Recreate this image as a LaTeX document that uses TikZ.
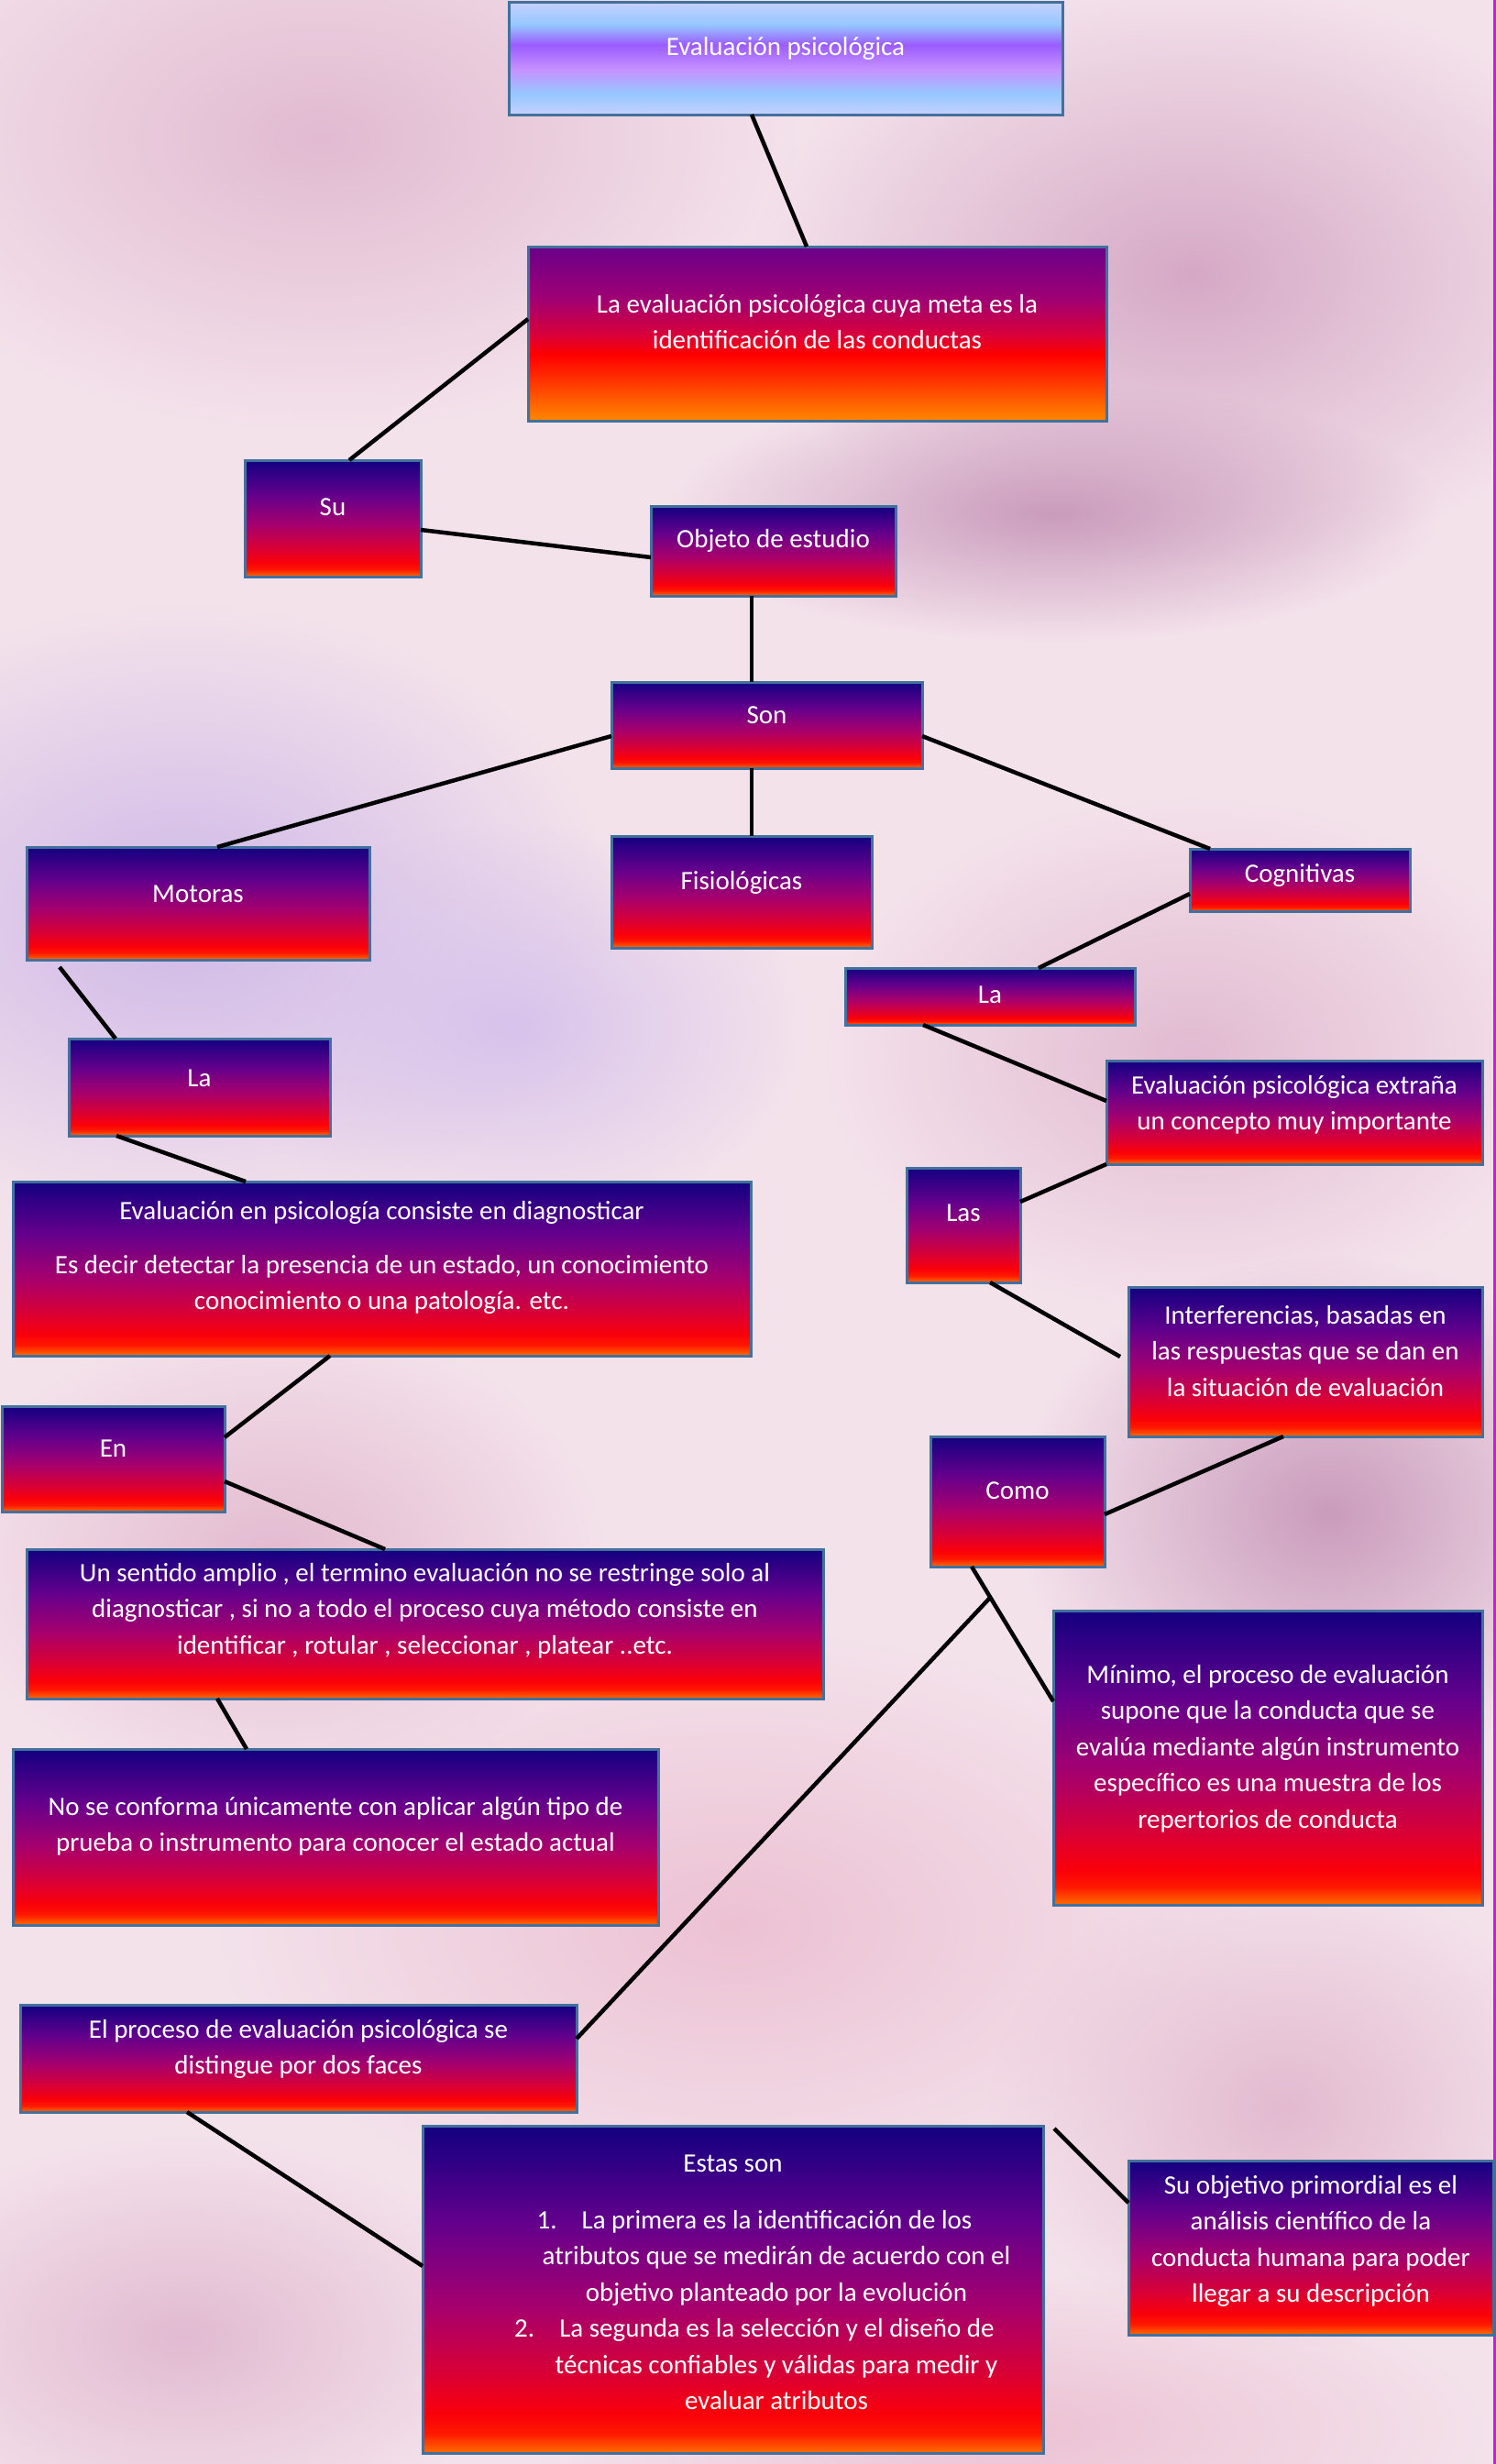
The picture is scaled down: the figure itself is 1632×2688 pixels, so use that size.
\documentclass[tikz,border=0pt]{standalone}
\usepackage{fontspec}
\setmainfont{Carlito}
\usetikzlibrary{fadings}

\definecolor{bgbase}{RGB}{244,226,235}
\definecolor{edgeblue}{RGB}{65,113,156}
\definecolor{rimpink}{RGB}{196,32,216}
\definecolor{cfNavy}{RGB}{18,0,128}
\definecolor{cfPurple}{RGB}{100,0,140}
\definecolor{cfMagenta}{RGB}{165,0,110}
\definecolor{cfCrimson}{RGB}{215,0,55}
\definecolor{cfRed}{RGB}{250,0,10}
\definecolor{cfRedB}{RGB}{255,25,0}
\definecolor{cfOrange}{RGB}{255,110,0}
\definecolor{gfPurple}{RGB}{105,0,138}
\definecolor{gfMagenta}{RGB}{160,0,115}
\definecolor{gfCrimson}{RGB}{215,0,60}
\definecolor{gfRed}{RGB}{255,0,0}
\definecolor{gfRedB}{RGB}{255,45,0}
\definecolor{gfOrange}{RGB}{255,135,0}
\definecolor{tfPale}{RGB}{198,208,255}
\definecolor{tfSky}{RGB}{150,200,255}
\definecolor{tfViolet}{RGB}{155,92,255}
\definecolor{tfLilac}{RGB}{198,145,255}
\definecolor{mauveA}{RGB}{225,185,208}
\definecolor{mauveB}{RGB}{212,166,196}
\definecolor{mauveC}{RGB}{200,152,186}
\definecolor{lavA}{RGB}{204,182,232}
\definecolor{lavB}{RGB}{214,194,236}
\definecolor{rosA}{RGB}{236,192,210}
\definecolor{rosB}{RGB}{226,184,206}

\pgfdeclareverticalshading{conceptfill}{100bp}{color(0bp)=(cfOrange); color(25bp)=(cfOrange); color(28bp)=(cfRedB); color(31bp)=(cfRed); color(37.5bp)=(cfCrimson); color(47.5bp)=(cfMagenta); color(60bp)=(cfPurple); color(75bp)=(cfNavy); color(100bp)=(cfNavy)}
\pgfdeclareverticalshading{goalfill}{100bp}{color(0bp)=(gfOrange); color(25bp)=(gfOrange); color(37.5bp)=(gfRedB); color(44bp)=(gfRed); color(50bp)=(gfCrimson); color(60bp)=(gfMagenta); color(75bp)=(gfPurple); color(100bp)=(gfPurple)}
\pgfdeclareverticalshading{titlefill}{100bp}{color(0bp)=(tfPale); color(25bp)=(tfPale); color(34bp)=(tfSky); color(45bp)=(tfLilac); color(56bp)=(tfViolet); color(65bp)=(tfSky); color(75bp)=(tfPale); color(100bp)=(tfPale)}
\tikzfading[name=blobfade, inner color=transparent!5, outer color=transparent!100]

\newcommand{\cbtext}[4]{\parbox[c][#2][t]{#1}{\centering\vspace*{\dimexpr#3-27.65pt\relax}\strut#4}}

\begin{document}
\begin{tikzpicture}[
    x=1pt, y=-1pt,
    concept/.style={draw=edgeblue, line width=3pt, shade, shading=conceptfill, inner sep=0pt, outer sep=0pt, anchor=north west, text=white, font=\fontsize{29}{39.5}\selectfont},
    goal/.style={concept, shading=goalfill},
    headline/.style={concept, shading=titlefill},
    blob/.style={fill=#1, path fading=blobfade},
    conn/.style={draw, line width=4.5pt}]
  \useasboundingbox (0,0) rectangle (1632,2688);
  \fill[bgbase] (0,0) rectangle (1632,2688);
  \fill[blob=mauveA] (350,150) ellipse (520 and 320);
  \fill[blob=mauveB] (1300,300) ellipse (480 and 320);
  \fill[blob=mauveC] (1150,560) ellipse (420 and 140);
  \fill[blob=lavA] (200,1000) ellipse (470 and 340);
  \fill[blob=lavB] (560,1120) ellipse (320 and 220);
  \fill[blob=mauveA] (1300,1150) ellipse (400 and 280);
  \fill[blob=mauveC] (1450,1650) ellipse (340 and 280);
  \fill[blob=rosB] (300,1700) ellipse (360 and 260);
  \fill[blob=rosA] (800,2100) ellipse (560 and 320);
  \fill[blob=rosB] (1400,2300) ellipse (320 and 260);
  \fill[blob=mauveA] (200,2550) ellipse (360 and 220);
  \fill[blob=rosA] (1100,2650) ellipse (520 and 170);
  \fill[rimpink] (1629,0) rectangle (1632,2688);

  \node[headline] (top) at (555,2) {\cbtext{604pt}{123pt}{58pt}{Evaluación psicológica}};
  \node[goal] (meta) at (576,269) {\cbtext{631pt}{190pt}{72pt}{La evaluación psicológica cuya meta es la\\identificación de las conductas}};
  \node[concept] (su) at (267,502) {\cbtext{192pt}{127pt}{60pt}{Su}};
  \node[concept] (objeto) at (710,552) {\cbtext{267pt}{98pt}{45pt}{Objeto de estudio}};
  \node[concept] (son) at (667,744) {\cbtext{339pt}{94pt}{45pt}{Son}};
  \node[concept] (motoras) at (29,924) {\cbtext{374pt}{123pt}{60pt}{Motoras}};
  \node[concept] (fisio) at (667,912) {\cbtext{284pt}{122pt}{58pt}{Fisiológicas}};
  \node[concept] (cogni) at (1298,926) {\cbtext{240pt}{68pt}{36pt}{Cognitivas}};
  \node[concept] (lader) at (922,1056) {\cbtext{316pt}{62pt}{38pt}{La}};
  \node[concept] (laizq) at (75,1133) {\cbtext{285pt}{106pt}{52pt}{La}};
  \node[concept] (extrana) at (1207,1157) {\cbtext{410pt}{113pt}{36pt}{Evaluación psicológica extraña\\un concepto muy importante}};
  \node[concept] (las) at (989,1274) {\cbtext{124pt}{125pt}{58pt}{Las}};
  \node[concept] (diag) at (14,1289) {\cbtext{805pt}{190pt}{41pt}{Evaluación en psicología consiste en diagnosticar\par\vspace{19.5pt}Es decir detectar la presencia de un estado, un conocimiento\\conocimiento o  una patología. etc.}};
  \node[concept] (interf) at (1231,1404) {\cbtext{386pt}{163pt}{40pt}{Interferencias, basadas en\\las respuestas que se dan en\\la situación de evaluación}};
  \node[concept] (en) at (2,1534) {\cbtext{243pt}{115pt}{55pt}{En}};
  \node[concept] (como) at (1015,1567) {\cbtext{190pt}{142pt}{68pt}{Como}};
  \node[concept] (amplio) at (29,1690) {\cbtext{869pt}{163pt}{35pt}{Un sentido amplio , el termino evaluación no se restringe solo al\\diagnosticar , si no a todo el proceso cuya método consiste en\\identificar , rotular , seleccionar , platear ..etc.}};
  \node[concept] (minimo) at (1149,1757) {\cbtext{468pt}{321pt}{79pt}{Mínimo, el proceso de evaluación\\supone que la conducta que se\\evalúa mediante algún instrumento\\específico es una muestra de los\\repertorios de conducta}};
  \node[concept] (conforma) at (14,1908) {\cbtext{704pt}{192pt}{72pt}{No se conforma únicamente con aplicar algún tipo de\\prueba o instrumento para conocer el estado actual}};
  \node[concept] (proceso) at (22,2187) {\cbtext{607pt}{117pt}{36pt}{El proceso de evaluación psicológica se\\distingue por dos faces}};
  \node[concept] (estas) at (461,2319) {\cbtext{677pt}{357pt}{50pt}{Estas son\par\vspace{22.5pt}%
    \hspace*{47pt}1.\hspace{27pt}La primera es la identificación de los\\
    \hspace*{95pt}atributos que se medirán de acuerdo con el\\
    \hspace*{95pt}objetivo planteado por la evolución\\
    \hspace*{47pt}2.\hspace{27pt}La segunda es la selección y el diseño de\\
    \hspace*{95pt}técnicas confiables y válidas para medir y\\
    \hspace*{95pt}evaluar atributos}};
  \node[concept] (objetivo) at (1231,2357) {\cbtext{398pt}{190pt}{36pt}{Su objetivo primordial es el\\análisis científico de la\\conducta humana para poder\\llegar a su descripción}};

  \draw[conn] ([xshift=-37pt]top.south) -- ([xshift=-11.5pt]meta.north);
  \draw[conn] ([yshift=16pt]meta.west) -- ([xshift=18pt]su.north);
  \draw[conn] ([yshift=-12.5pt]su.east) -- ([yshift=-7pt]objeto.west);
  \draw[conn] ([xshift=-23.5pt]objeto.south) -- ([xshift=-16.5pt]son.north);
  \draw[conn] ([yshift=-12pt]son.west) -- ([xshift=21pt]motoras.north);
  \draw[conn] ([xshift=-16.5pt]son.south) -- ([xshift=11pt]fisio.north);
  \draw[conn] ([yshift=-12pt]son.east) -- ([xshift=-98pt]cogni.north);
  \draw[conn] ([yshift=-15pt]cogni.west) -- ([xshift=53pt]lader.north);
  \draw[conn] ([xshift=-151pt,yshift=-8pt]motoras.south) -- ([xshift=-91.5pt]laizq.north);
  \draw[conn] ([xshift=-73pt]lader.south) -- ([yshift=12.5pt]extrana.west);
  \draw[conn] ([xshift=-90.5pt]laizq.south) -- ([xshift=-148.5pt]diag.north);
  \draw[conn] (extrana.south west) -- ([yshift=25.5pt]las.east);
  \draw[conn] ([xshift=29pt]las.south) -- ([xshift=-9pt,yshift=5.5pt]interf.west);
  \draw[conn] ([xshift=-56.5pt]diag.south) -- ([yshift=23.5pt]en.east);
  \draw[conn] ([yshift=-24.5pt]en.east) -- ([xshift=-43.5pt]amplio.north);
  \draw[conn] ([xshift=-24pt]interf.south) -- ([yshift=-14pt]como.east);
  \draw[conn] ([xshift=-50pt]como.south) -- ([yshift=61.5pt]minimo.west);
  \draw[conn] ([xshift=-226.5pt]amplio.south) -- ([xshift=-97pt]conforma.north);
  \coordinate (fork) at (1080,1743);
  \draw[conn] (fork) -- ([yshift=21.5pt]proceso.east);
  \draw[conn] ([xshift=-121.5pt]proceso.south) -- ([yshift=25.5pt]estas.west);
  \draw[conn] ([xshift=12pt,yshift=-3pt]estas.north east) -- ([yshift=49pt]objetivo.west);
\end{tikzpicture}
\end{document}
